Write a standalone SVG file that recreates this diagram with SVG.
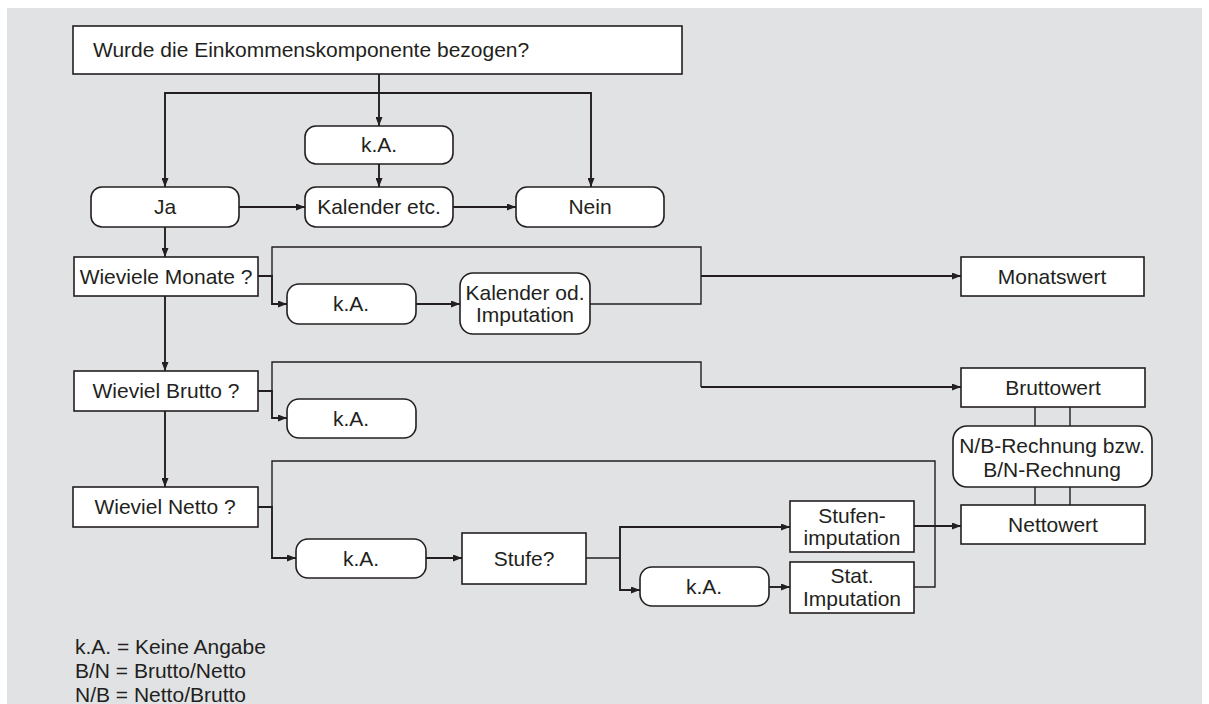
<svg xmlns="http://www.w3.org/2000/svg" width="1209" height="704" viewBox="0 0 1209 704">
<defs>
<marker id="ah" markerWidth="9" markerHeight="7" refX="9" refY="3.5" orient="auto" markerUnits="userSpaceOnUse"><path d="M0,0 L9,3.5 L0,7 z" fill="#231f20"/></marker>
<style>
.bx{fill:#fff;stroke:#231f20;stroke-width:1.6}
.t{font-family:"Liberation Sans",Arial,Helvetica,sans-serif;font-size:21px;fill:#231f20;text-anchor:middle}
.l{text-anchor:start}
.c{fill:none;stroke:#231f20;stroke-width:1.9}
.th{fill:none;stroke:#231f20;stroke-width:1.4}
.a{marker-end:url(#ah)}
</style>
</defs>
<rect x="0" y="0" width="1209" height="704" fill="#ffffff"/>
<rect x="7" y="8" width="1195" height="696" fill="#e1e2e4"/>

<g id="connectors">
<path class="c a" d="M379,74 V126"/>
<path class="c a" d="M379,93 H165 V187"/>
<path class="c a" d="M379,93 H591 V187"/>
<path class="c a" d="M379,164 V187"/>
<path class="c a" d="M239,207 H305"/>
<path class="c a" d="M453,207 H516"/>
<path class="c a" d="M165,227 V257"/>
<path class="c a" d="M165,296 V371"/>
<path class="c a" d="M165,411 V487"/>
<path class="c a" d="M258,276 H272 V304 H287"/>
<path class="th" d="M272,276 V247 H701 V304 H590"/>
<path class="c a" d="M701,276 H961"/>
<path class="c a" d="M416,304 H460"/>
<path class="c a" d="M258,391 H272 V418 H287"/>
<path class="th" d="M272,391 V362 H701 V387"/>
<path class="c a" d="M701,387 H961"/>
<path class="c a" d="M258,507 H272 V558 H296"/>
<path class="th" d="M272,507 V461 H935 V587 H914"/>
<path class="c a" d="M426,558 H462"/>
<path class="th" d="M586,558 H620"/>
<path class="c a" d="M620,558 V527 H790"/>
<path class="c a" d="M620,558 V590 H640"/>
<path class="c a" d="M769,587 H790"/>
<path class="c a" d="M914,526 H961"/>
<path class="th" d="M1035,407 V426 M1070,407 V426 M1035,487 V505 M1070,487 V505"/>
</g>

<g id="n-top"><rect class="bx" x="73" y="26" width="609" height="48"/><text class="t l" x="93" y="57">Wurde die Einkommenskomponente bezogen?</text></g>
<g id="n-ka1"><rect class="bx" x="305" y="126" width="148" height="38" rx="11"/><text class="t" x="379" y="152">k.A.</text></g>
<g id="n-ja"><rect class="bx" x="91" y="187" width="148" height="40" rx="11"/><text class="t" x="165" y="214">Ja</text></g>
<g id="n-kal"><rect class="bx" x="305" y="187" width="148" height="40" rx="11"/><text class="t" x="379" y="214">Kalender etc.</text></g>
<g id="n-nein"><rect class="bx" x="516" y="187" width="148" height="40" rx="11"/><text class="t" x="590" y="214">Nein</text></g>
<g id="n-monate"><rect class="bx" x="74" y="257" width="184" height="39"/><text class="t" x="166" y="284">Wieviele Monate ?</text></g>
<g id="n-ka2"><rect class="bx" x="287" y="284" width="129" height="40" rx="12"/><text class="t" x="351" y="311">k.A.</text></g>
<g id="n-kalod"><rect class="bx" x="460" y="273" width="130" height="61" rx="13"/><text class="t" x="525" y="300">Kalender od.</text><text class="t" x="525" y="322">Imputation</text></g>
<g id="n-monatswert"><rect class="bx" x="961" y="257" width="183" height="39"/><text class="t" x="1052" y="284">Monatswert</text></g>
<g id="n-brutto"><rect class="bx" x="74" y="371" width="184" height="40"/><text class="t" x="166" y="398">Wieviel Brutto ?</text></g>
<g id="n-ka3"><rect class="bx" x="287" y="399" width="129" height="39" rx="12"/><text class="t" x="351" y="426">k.A.</text></g>
<g id="n-bruttowert"><rect class="bx" x="961" y="368" width="184" height="39"/><text class="t" x="1053" y="395">Bruttowert</text></g>
<g id="n-nb"><rect class="bx" x="953" y="426" width="199" height="61" rx="14"/><text class="t" x="1052" y="453">N/B-Rechnung bzw.</text><text class="t" x="1052" y="477">B/N-Rechnung</text></g>
<g id="n-nettowert"><rect class="bx" x="961" y="505" width="184" height="39"/><text class="t" x="1053" y="532">Nettowert</text></g>
<g id="n-netto"><rect class="bx" x="73" y="487" width="185" height="40"/><text class="t" x="165" y="514">Wieviel Netto ?</text></g>
<g id="n-ka4"><rect class="bx" x="296" y="539" width="130" height="39" rx="12"/><text class="t" x="361" y="566">k.A.</text></g>
<g id="n-stufe"><rect class="bx" x="462" y="533" width="124" height="51"/><text class="t" x="524" y="566">Stufe?</text></g>
<g id="n-stufen"><rect class="bx" x="790" y="501" width="124" height="51"/><text class="t" x="852" y="523">Stufen-</text><text class="t" x="852" y="545">imputation</text></g>
<g id="n-ka5"><rect class="bx" x="640" y="567" width="129" height="39" rx="12"/><text class="t" x="704" y="594">k.A.</text></g>
<g id="n-stat"><rect class="bx" x="790" y="562" width="124" height="51"/><text class="t" x="852" y="583">Stat.</text><text class="t" x="852" y="606">Imputation</text></g>

<g id="legend">
<text class="t l" x="75" y="654">k.A. = Keine Angabe</text>
<text class="t l" x="75" y="678">B/N = Brutto/Netto</text>
<text class="t l" x="75" y="702">N/B = Netto/Brutto</text>
</g>
</svg>
